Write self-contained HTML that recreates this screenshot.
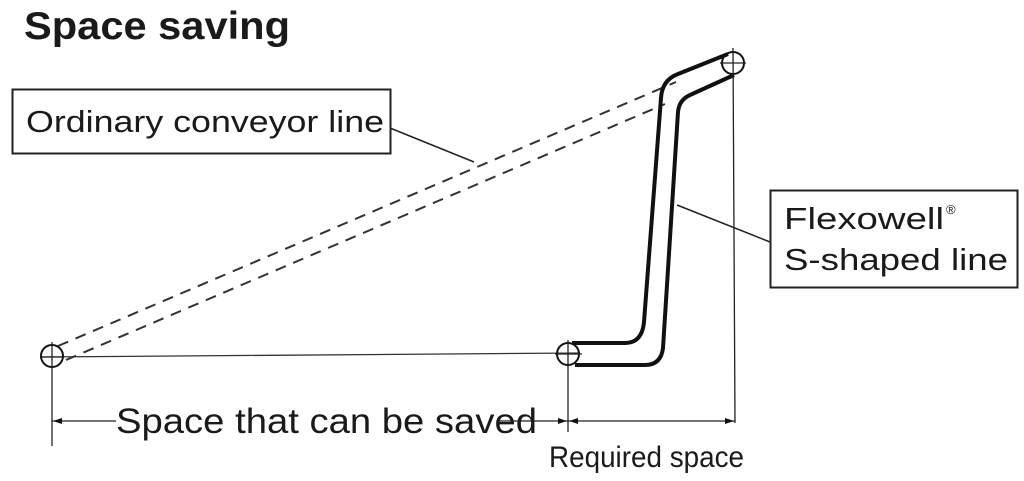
<!DOCTYPE html>
<html><head><meta charset="utf-8"><style>
html,body{margin:0;padding:0;background:#fff;}
svg{display:block}
text{font-family:"Liberation Sans",sans-serif;fill:#1a1a1a}
</style></head><body>
<svg width="1024" height="481" viewBox="0 0 1024 481" xmlns="http://www.w3.org/2000/svg">
<text x="24" y="39" font-size="39" font-weight="bold" textLength="266" lengthAdjust="spacingAndGlyphs">Space saving</text>
<rect x="12.5" y="89.5" width="378" height="64" fill="none" stroke="#222" stroke-width="2"/>
<text x="26" y="132" font-size="31" textLength="358" lengthAdjust="spacingAndGlyphs">Ordinary conveyor line</text>
<line x1="390" y1="128" x2="474" y2="162" stroke="#222" stroke-width="1.5"/>
<rect x="770.5" y="190.5" width="247" height="97" fill="none" stroke="#222" stroke-width="2"/>
<text x="784" y="229" font-size="31" textLength="160" lengthAdjust="spacingAndGlyphs">Flexowell</text>
<text x="946" y="214" font-size="13">®</text>
<text x="784" y="270" font-size="31" textLength="224" lengthAdjust="spacingAndGlyphs">S-shaped line</text>
<line x1="677" y1="205" x2="770" y2="242" stroke="#222" stroke-width="1.5"/>
<!-- dashed lines -->
<line x1="58" y1="346" x2="676" y2="82" stroke="#333" stroke-width="2" stroke-dasharray="11,8"/>
<line x1="66" y1="360" x2="665" y2="104" stroke="#333" stroke-width="2" stroke-dasharray="11,8"/>
<!-- baseline -->
<line x1="40" y1="357" x2="580" y2="353" stroke="#333" stroke-width="1.3"/>
<!-- S line -->
<path d="M728,54 L678,74 Q662,80 661,98 L644,322 Q642,343 625,343 L572,343" fill="none" stroke="#111" stroke-width="4"/>
<path d="M734,75 L690,95 Q679,100 678,112 L663,348 Q661,365 645,365 L575,365" fill="none" stroke="#111" stroke-width="4"/>
<!-- circles -->
<g fill="none" stroke="#111" stroke-width="2">
<circle cx="733" cy="63" r="11"/><circle cx="568" cy="354" r="11"/><circle cx="52" cy="356" r="11"/>
</g>
<g stroke="#222" stroke-width="1.3">
<line x1="720" y1="63" x2="746" y2="63"/><line x1="733" y1="48" x2="735" y2="423"/>
<line x1="555" y1="354" x2="582" y2="354"/><line x1="568" y1="340" x2="568" y2="432"/>
<line x1="40" y1="357" x2="64" y2="357"/><line x1="52" y1="342" x2="52" y2="446"/>
<line x1="52" y1="421" x2="735" y2="421"/>
</g>
<g fill="#111"><polygon points="53,421 62,418 62,424"/><polygon points="567,421 558,418 558,424"/><polygon points="569,421 578,418 578,424"/><polygon points="734,421 725,418 725,424"/></g>
<rect x="116" y="402" width="422" height="34" fill="#fff"/>
<text x="116" y="433" font-size="35" textLength="421" lengthAdjust="spacingAndGlyphs">Space that can be saved</text>
<line x1="500" y1="421" x2="538" y2="421" stroke="#222" stroke-width="1.3"/>
<text x="549" y="467" font-size="30" textLength="195" lengthAdjust="spacingAndGlyphs">Required space</text>
</svg>
</body></html>
